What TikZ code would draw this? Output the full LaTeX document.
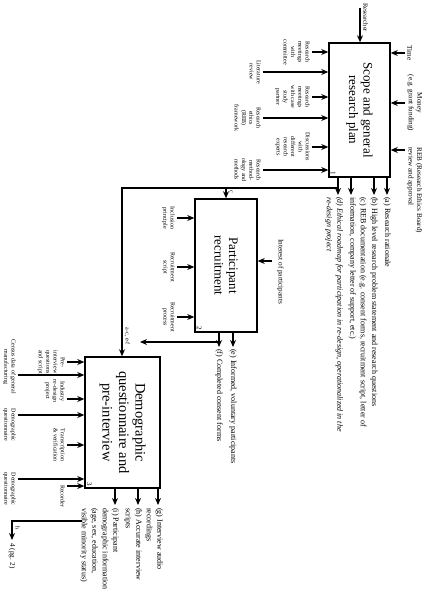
\documentclass[tikz,border=0pt]{standalone}
\usepackage{fontspec}
\setmainfont{Liberation Serif}
\usetikzlibrary{arrows.meta,positioning}

\tikzset{
actbox/.style={
  draw,
  line width=1.5pt,
  align=center,
  inner sep=2pt,
  font=\fontsize{13}{14.5}\selectfont
},
boxnum/.style={
  anchor=south east,
  inner sep=2.5pt,
  font=\fontsize{7}{8}\selectfont
},
flow/.style={
  -{Stealth[length=7pt,width=6pt]},
  line width=1.4pt
},
ctrllabel/.style={
  align=center,
  inner sep=1pt,
  font=\fontsize{7.2}{8.5}\selectfont
},
mechlabel/.style={
  align=center,
  inner sep=1pt,
  font=\fontsize{6}{7.3}\selectfont
},
outlabel/.style={
  align=left,
  inner sep=1pt,
  font=\fontsize{8}{10.5}\selectfont
},
tag/.style={
  inner sep=0.5pt,
  font=\fontsize{6}{7}\selectfont
}
}

\begin{document}
\begin{tikzpicture}[x=1pt, y=1pt, rotate=-90, transform shape]
\useasboundingbox (0,0) rectangle (599,425);

% activity boxes
\node[actbox, minimum width=134pt, minimum height=61pt]
  (plan) at (110,359.5) {Scope and general\\research plan};
\node[actbox, minimum width=133pt, minimum height=62pt]
  (recruit) at (265.5,226) {Participant\\recruitment};
\node[actbox, minimum width=131pt, minimum height=75pt, font=\fontsize{14.5}{16.5}\selectfont]
  (demo) at (422.5,122.5) {Demographic\\questionnaire and\\pre-interview};
\node[boxnum] at (plan.south east) {1};
\node[boxnum] at (recruit.south east) {2};
\node[boxnum] at (demo.south east) {3};

% box 1
\coordinate (researcher) at (8,360);
\draw[flow] (researcher) -- (researcher -| plan.west);
\node[mechlabel, anchor=south west, font=\fontsize{6.5}{7.5}\selectfont] at (2,362) {Researcher};

\coordinate (time) at (53,405);
\coordinate (money) at (103,405);
\coordinate (reb) at (150,405);
\foreach \c in {time,money,reb}
  \draw[flow] (\c) -- (\c |- plan.north);
\node[ctrllabel, above=1pt of time] {Time};
\node[ctrllabel, above=1pt of money] {Money\\(e.g. grant funding)};
\node[ctrllabel, align=left, anchor=south west] at (146,406) {REB (Research Ethics Board)\\review and approval};

\coordinate (committee) at (52,312);
\coordinate (litreview) at (72,263);
\coordinate (partner) at (97,312);
\coordinate (ethics) at (118,263);
\coordinate (experts) at (147,312);
\coordinate (methods) at (170,263);
\foreach \m in {committee,litreview,partner,ethics,experts,methods}
  \draw[flow] (\m) -- (\m |- plan.south);
\node[mechlabel, below=1pt of committee] {Research\\meetings\\with\\committee};
\node[mechlabel, below=1pt of litreview] {Literature\\review};
\node[mechlabel, below=1pt of partner] {Research\\meetings\\with case\\study\\partner};
\node[mechlabel, below=1pt of ethics] {Research\\ethics\\(REB)\\framework};
\node[mechlabel, below=1pt of experts] {Discussions\\with\\different\\research\\experts};
\node[mechlabel, below=1pt of methods] {Research\\method-\\ology and\\methods};

\coordinate (outa) at (195,387);
\coordinate (outb) at (195,374);
\coordinate (outc) at (195,351);
\coordinate (outd) at (195,338);
\foreach \o in {outa,outb,outc,outd}
  \draw[flow] (\o -| plan.east) -- (\o);
\node[outlabel, right=1pt of outa] {(a) Research rationale};
\node[outlabel, right=1pt of outb] {(b) High level research problem statement and research questions};
\node[outlabel, anchor=west] at (196,357.5) {(c) REB documentation (e.g. consent forms, recruitment script, letter of\\information, company letter of support, etc.)};
\node[outlabel, anchor=west, font=\fontsize{8}{10.5}\selectfont\itshape] at (196,334) {(d) Ethical roadmap for participation in re-design, operationalized in the\\re-design project};

% box 1 to boxes 2 and 3
\coordinate (cbranch) at (188,338);
\coordinate (cbend) at (188,122);
\coordinate (ctap) at (188,226);
\draw[flow] (cbranch) -- (cbend) -- (cbend -| demo.west);
\draw[flow] (ctap) -- (ctap -| recruit.west);
\node[tag, anchor=south west] at (190,229) {c};

% box 2
\coordinate (interest) at (261,272);
\draw[flow] (interest) -- (interest |- recruit.north);
\node[ctrllabel, anchor=south west] at (238,276) {Interest of participants};

\coordinate (inclusion) at (218,177);
\coordinate (rscript) at (267,177);
\coordinate (rprocess) at (317,177);
\foreach \m in {inclusion,rscript,rprocess}
  \draw[flow] (\m) -- (\m |- recruit.south);
\node[mechlabel, below=1pt of inclusion] {Inclusion\\principle};
\node[mechlabel, below=1pt of rscript] {Recruitment\\script};
\node[mechlabel, below=1pt of rprocess] {Recruitment\\process};

\coordinate (oute) at (347,233);
\coordinate (outf) at (347,219);
\foreach \o in {oute,outf}
  \draw[flow] (\o -| recruit.east) -- (\o);
\node[outlabel, right=1pt of oute] {(e) Informed, voluntary participants};
\node[outlabel, right=1pt of outf] {(f) Completed consent forms};

\coordinate (efbranch) at (342,219);
\coordinate (efend) at (342,140);
\draw[flow] (efbranch) -- (efend);
\node[tag, anchor=south west] at (327,124) {a-c, e-f};

% box 3
\coordinate (prequest) at (362,67);
\coordinate (census) at (375,18);
\coordinate (industry) at (399,67);
\coordinate (demoqa) at (415,18);
\coordinate (transcript) at (445,67);
\coordinate (demoqb) at (479,18);
\coordinate (recorder) at (486,67);
\foreach \m in {prequest,census,industry,demoqa,transcript,demoqb,recorder}
  \draw[flow] (\m) -- (\m |- demo.south);
\node[mechlabel, below=1pt of prequest] {Pre-\\interview\\questions\\and script};
\node[mechlabel, below=1pt of census, xshift=-8pt] {Census data of general\\manufacturing};
\node[mechlabel, below=1pt of industry, xshift=-8pt] {Industry\\re-design\\project};
\node[mechlabel, below=1pt of demoqa, xshift=10pt] {Demographic\\questionnaire};
\node[mechlabel, below=1pt of transcript] {Transcription\\\& verification};
\node[mechlabel, below=1pt of demoqb, xshift=10pt] {Demographic\\questionnaire};
\node[mechlabel, below=1pt of recorder, xshift=10pt] {Recorder};

\coordinate (outg) at (505,158);
\coordinate (outh) at (505,138);
\coordinate (outi) at (505,115);
\foreach \o in {outg,outh,outi}
  \draw[flow] (\o -| demo.east) -- (\o);
\node[outlabel, anchor=north west] at (507,164) {(g) Interview audio\\recordings};
\node[outlabel, anchor=north west] at (507,143) {(h) Accurate interview\\scripts};
\node[outlabel, anchor=north west] at (507,120) {(i) Participant\\demographic information\\(age, sex, education,\\visible minority status)};

% off-page connector
\coordinate (hstart) at (521,82);
\coordinate (hbend) at (521,12);
\coordinate (hend) at (540,12);
\draw[flow] (hstart) -- (hbend) -- (hend);
\node[tag, anchor=south west] at (526,15) {h};
\node[ctrllabel, right=2pt of hend] {4 (pg. 2)};
\end{tikzpicture}
\end{document}
